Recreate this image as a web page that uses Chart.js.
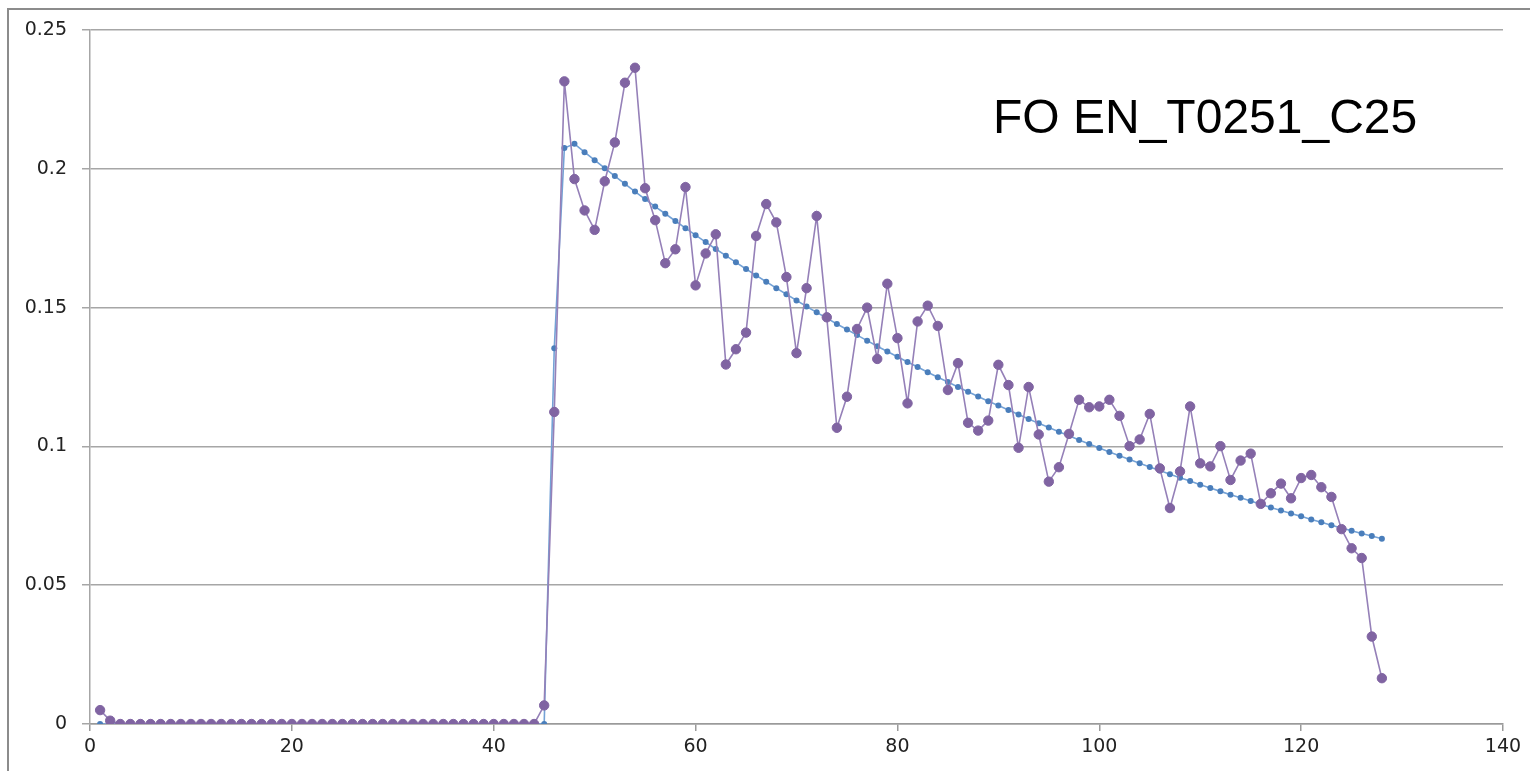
<!DOCTYPE html>
<html>
<head>
<meta charset="utf-8">
<script src="https://cdn.jsdelivr.net/npm/chart.js@4/dist/chart.umd.min.js"></script>
<style>
  body { margin: 0; background: #fff; }
  #wrap { position: relative; width: 1530px; height: 771px; overflow: hidden; }
  #frame { position: absolute; left: 7px; top: 8px; width: 1600px; height: 900px;
           border-left: 2px solid #8c8c8c; border-top: 2px solid #8c8c8c; }
  canvas { position: absolute; left: 0; top: 0; }
</style>
</head>
<body>
<div id="wrap">
  <div id="frame"></div>
  <canvas id="chart" width="1530" height="771"></canvas>
</div>
<script>
// measured series, index 1..128
var measured = [
  0.005, 0.0012, 0, 0, 0, 0, 0, 0, 0, 0,
  0, 0, 0, 0, 0, 0, 0, 0, 0, 0,
  0, 0, 0, 0, 0, 0, 0, 0, 0, 0,
  0, 0, 0, 0, 0, 0, 0, 0, 0, 0,
  0, 0, 0, 0, 0.0067, 0.1124, 0.2315, 0.1963, 0.185, 0.178,
  0.1955, 0.2095, 0.231, 0.2364, 0.193, 0.1815, 0.166, 0.171, 0.1934, 0.158,
  0.1695, 0.1764, 0.1295, 0.135, 0.141, 0.1758, 0.1873, 0.1807, 0.161, 0.1336,
  0.157, 0.183, 0.1465, 0.1067, 0.1179, 0.1423, 0.150, 0.1315, 0.1586, 0.139,
  0.1155, 0.145, 0.1507, 0.1434, 0.1203, 0.130, 0.1085, 0.1057, 0.1093, 0.1294,
  0.1221, 0.0995, 0.1214, 0.1043, 0.0873, 0.0925, 0.1045, 0.1168, 0.1141, 0.1144,
  0.1168, 0.111, 0.1001, 0.1025, 0.1117, 0.0921, 0.0778, 0.091, 0.1144, 0.0939,
  0.0928, 0.1001, 0.0879, 0.0949, 0.0974, 0.0793, 0.0831, 0.0866, 0.0813, 0.0886,
  0.0897, 0.0853, 0.0818, 0.0702, 0.0633, 0.0598, 0.0315, 0.0165
];

// fitted curve, same index
var fitted = [
  0, 0, 0, 0, 0, 0, 0, 0, 0, 0,
  0, 0, 0, 0, 0, 0, 0, 0, 0, 0,
  0, 0, 0, 0, 0, 0, 0, 0, 0, 0,
  0, 0, 0, 0, 0, 0, 0, 0, 0, 0,
  0, 0, 0, 0, 0, 0.1354, 0.2075, 0.209, 0.206, 0.2031,
  0.2002, 0.1974, 0.1946, 0.1918, 0.1891, 0.1864, 0.1838, 0.1812, 0.1786, 0.1761,
  0.1736, 0.1711, 0.1687, 0.1663, 0.1639, 0.1616, 0.1593, 0.157, 0.1548, 0.1526,
  0.1504, 0.1483, 0.1462, 0.1441, 0.1421, 0.1401, 0.1381, 0.1361, 0.1342, 0.1323,
  0.1304, 0.1286, 0.1267, 0.1249, 0.1232, 0.1214, 0.1197, 0.118, 0.1163, 0.1147,
  0.1131, 0.1115, 0.1099, 0.1083, 0.1068, 0.1053, 0.1038, 0.1023, 0.1009, 0.0994,
  0.098, 0.0966, 0.0953, 0.0939, 0.0926, 0.0913, 0.09, 0.0887, 0.0875, 0.0862,
  0.085, 0.0838, 0.0826, 0.0815, 0.0803, 0.0792, 0.078, 0.0769, 0.0758, 0.0748,
  0.0737, 0.0727, 0.0716, 0.0706, 0.0696, 0.0686, 0.0677, 0.0667
];

var xTicks = [0, 20, 40, 60, 80, 100, 120, 140];
var yTicks = [0, 0.05, 0.1, 0.15, 0.2, 0.25];
var chartLabel = 'FO EN_T0251_C25';

function toPoints(arr) {
  return arr.map(function (v, i) { return { x: i + 1, y: v }; });
}

// label drawn inside the plot area
var labelPlugin = {
  id: 'plotLabel',
  afterDraw: function (chart) {
    var ctx = chart.ctx;
    var a = chart.chartArea;
    ctx.save();
    ctx.font = '48px "Liberation Sans", Arial, sans-serif';
    ctx.fillStyle = '#000';
    ctx.textBaseline = 'alphabetic';
    ctx.fillText(chartLabel, a.left + 903, a.top + 103);
    ctx.restore();
  }
};

var tickFont = { family: '"DejaVu Sans", Verdana, sans-serif', size: 19 };

var config = {
  type: 'line',
  data: {
    datasets: [{
        label: 'measured',
        data: toPoints(measured),
        borderColor: '#9580b8',
        borderWidth: 1.6,
        pointBackgroundColor: '#8064a2',
        pointBorderColor: '#8064a2',
        pointBorderWidth: 1,
        pointRadius: 4.7,
        tension: 0
      },
      {
        label: 'fit',
        data: toPoints(fitted),
        borderColor: '#74a2d6',
        borderWidth: 1.6,
        pointBackgroundColor: '#4a7ebb',
        pointBorderColor: '#4a7ebb',
        pointBorderWidth: 0,
        pointRadius: 3,
        tension: 0
      }
    ]
  },
  options: {
    responsive: false,
    animation: false,
    layout: {
      padding: { left: 0, right: 27, top: 30, bottom: 0 }
    },
    plugins: {
      legend: { display: false },
      tooltip: { enabled: false }
    },
    scales: {
      x: {
        type: 'linear',
        min: 0,
        max: 140,
        afterBuildTicks: function (scale) {
          scale.ticks = xTicks.map(function (v) { return { value: v }; });
        },
        afterFit: function (scale) { scale.height = 47; },
        grid: {
          drawOnChartArea: false,
          drawTicks: true,
          tickLength: 7,
          color: '#9a9a9a',
          lineWidth: 1.5
        },
        border: { color: '#9a9a9a', width: 1.5 },
        ticks: {
          color: '#222',
          font: tickFont,
          padding: 5,
          maxRotation: 0
        }
      },
      y: {
        min: 0,
        max: 0.25,
        afterBuildTicks: function (scale) {
          scale.ticks = yTicks.map(function (v) { return { value: v }; });
        },
        afterFit: function (scale) { scale.width = 90; },
        grid: {
          color: '#a6a6a6',
          lineWidth: 1.5,
          tickLength: 8
        },
        border: { color: '#a6a6a6', width: 1.5 },
        ticks: {
          color: '#222',
          font: tickFont,
          padding: 15,
          callback: function (v) { return String(Number(v.toFixed(2))); }
        }
      }
    }
  },
  plugins: [labelPlugin]
};

var chart = new Chart(document.getElementById('chart'), config);
</script>
</body>
</html>
